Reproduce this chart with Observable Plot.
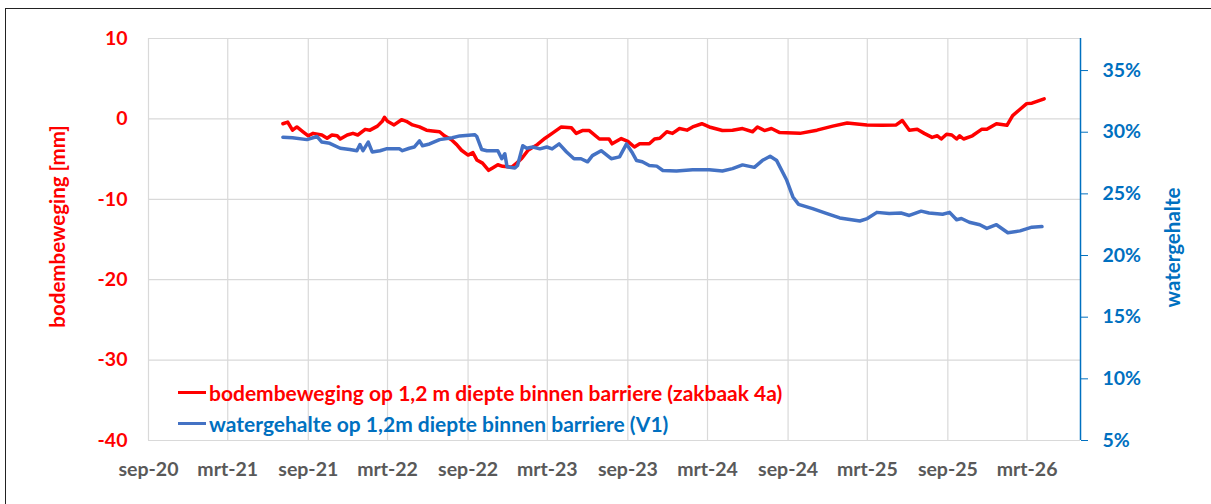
<!DOCTYPE html>
<html>
<head>
<meta charset="utf-8">
<script src="https://cdn.jsdelivr.net/npm/d3@7"></script>
<script src="https://cdn.jsdelivr.net/npm/@observablehq/plot@0.6"></script>
<style>
  html, body { margin: 0; padding: 0; background: #fff; }
  #wrap { position: relative; width: 1211px; height: 504px; overflow: hidden; font-family: Lato, "Open Sans", sans-serif; }
  #border { position: absolute; left: 5px; top: 8px; width: 1300px; height: 600px; border-left: 1.5px solid #222; border-top: 1.5px solid #222; box-sizing: border-box; }
  #chart { position: absolute; left: 0; top: 0; }
  #legend { position: absolute; left: 178px; top: 377px; font-weight: bold; font-size: 21px; line-height: 31px; }
  #legend .row { display: flex; align-items: center; white-space: nowrap; height: 31px; }
  #legend .sw { display: inline-block; width: 28px; height: 3px; margin-right: 3px; }
</style>
</head>
<body>
<div id="wrap">
  <div id="border"></div>
  <div id="chart"></div>
  <div id="legend"></div>
</div>
<script>
// ---- data ----
const xTickDates = ["2020-09-01","2021-03-01","2021-09-01","2022-03-01","2022-09-01","2023-03-01","2023-09-01","2024-03-01","2024-09-01","2025-03-01","2025-09-01","2026-03-01"];
const xTickLabels = ["sep-20","mrt-21","sep-21","mrt-22","sep-22","mrt-23","sep-23","mrt-24","sep-24","mrt-25","sep-25","mrt-26"];
const xDomain = ["2020-09-01","2026-07-01"];
const leftTicks = [-40, -30, -20, -10, 0, 10];
const leftDomain = [-40, 10];
const rightTicks = [5, 10, 15, 20, 25, 30, 35];
const rightDomain = [5, 37.6];

const seriesNames = ["bodembeweging op 1,2 m diepte binnen barriere (zakbaak 4a)", "watergehalte op 1,2m diepte binnen barriere (V1)"];

const redDates = ["2021-07-05","2021-07-16","2021-07-27","2021-08-06","2021-08-20","2021-09-01","2021-09-12","2021-10-02","2021-10-14","2021-10-25","2021-11-06","2021-11-13","2021-11-29","2021-12-12","2021-12-23","2022-01-09","2022-01-20","2022-02-06","2022-02-17","2022-02-22","2022-03-01","2022-03-16","2022-04-02","2022-04-13","2022-04-27","2022-05-13","2022-05-29","2022-06-12","2022-06-28","2022-07-09","2022-07-25","2022-08-06","2022-08-17","2022-09-01","2022-09-12","2022-09-21","2022-10-04","2022-10-18","2022-10-27","2022-11-08","2022-11-19","2022-12-10","2022-12-21","2023-01-02","2023-01-16","2023-02-06","2023-02-24","2023-03-12","2023-04-02","2023-04-25","2023-05-06","2023-05-20","2023-06-05","2023-06-28","2023-07-20","2023-07-27","2023-08-17","2023-09-01","2023-09-16","2023-09-28","2023-10-20","2023-11-01","2023-11-13","2023-11-29","2023-12-12","2023-12-28","2024-01-14","2024-01-27","2024-02-17","2024-03-05","2024-04-04","2024-04-27","2024-05-20","2024-06-12","2024-06-23","2024-07-09","2024-07-25","2024-08-13","2024-09-28","2024-11-06","2024-12-12","2025-01-14","2025-02-28","2025-04-04","2025-05-06","2025-05-20","2025-06-05","2025-06-23","2025-07-09","2025-07-27","2025-08-08","2025-08-17","2025-08-29","2025-09-10","2025-09-21","2025-09-28","2025-10-07","2025-10-27","2025-11-17","2025-11-29","2025-12-21","2026-01-14","2026-01-27","2026-02-13","2026-02-28","2026-03-12","2026-04-09"];
const redValues = [-0.6,-0.4,-1.4,-1.0,-1.6,-2.1,-1.8,-2.0,-2.4,-2.0,-2.1,-2.5,-2.0,-1.8,-2.0,-1.3,-1.4,-0.9,-0.3,0.2,-0.3,-0.75,-0.1,-0.3,-0.75,-1.0,-1.4,-1.5,-1.6,-2.1,-2.6,-3.2,-3.9,-4.5,-4.2,-5.1,-5.5,-6.4,-6.1,-5.7,-5.9,-6.0,-5.5,-4.9,-3.9,-3.2,-2.4,-1.8,-1.0,-1.1,-1.8,-1.45,-1.45,-2.5,-2.5,-3.1,-2.45,-2.8,-3.5,-3.1,-3.1,-2.5,-2.4,-1.6,-1.8,-1.2,-1.4,-1.0,-0.6,-1.0,-1.45,-1.4,-1.2,-1.6,-1.0,-1.45,-1.2,-1.7,-1.8,-1.4,-0.9,-0.5,-0.75,-0.8,-0.75,-0.2,-1.4,-1.3,-1.8,-2.3,-2.1,-2.5,-1.9,-2.0,-2.5,-2.1,-2.5,-2.1,-1.3,-1.3,-0.6,-0.8,0.4,1.2,1.9,1.95,2.5];

const blueDates = ["2021-07-05","2021-07-27","2021-08-29","2021-09-21","2021-10-02","2021-10-20","2021-11-13","2021-12-05","2021-12-21","2021-12-28","2022-01-04","2022-01-16","2022-01-25","2022-02-12","2022-02-26","2022-03-28","2022-04-04","2022-04-20","2022-05-01","2022-05-13","2022-05-20","2022-06-05","2022-06-28","2022-07-27","2022-08-13","2022-09-16","2022-09-21","2022-10-02","2022-10-14","2022-11-08","2022-11-17","2022-11-24","2022-11-29","2022-12-17","2022-12-23","2023-01-04","2023-01-13","2023-01-27","2023-02-12","2023-02-28","2023-03-12","2023-03-28","2023-04-14","2023-05-01","2023-05-17","2023-06-01","2023-06-12","2023-07-02","2023-07-25","2023-08-13","2023-08-29","2023-09-10","2023-09-21","2023-10-04","2023-10-20","2023-11-06","2023-11-20","2023-12-21","2024-01-27","2024-03-05","2024-04-04","2024-04-27","2024-05-20","2024-06-16","2024-07-04","2024-07-22","2024-08-06","2024-08-29","2024-09-12","2024-09-25","2024-10-27","2024-11-29","2024-12-28","2025-02-12","2025-03-01","2025-03-23","2025-04-20","2025-05-17","2025-06-05","2025-07-02","2025-07-20","2025-08-20","2025-09-05","2025-09-21","2025-10-02","2025-10-20","2025-11-13","2025-11-29","2025-12-21","2026-01-16","2026-02-13","2026-03-12","2026-04-04"];
const blueValues = [29.6,29.55,29.4,29.65,29.2,29.1,28.7,28.6,28.5,29.0,28.5,29.2,28.4,28.5,28.65,28.65,28.5,28.7,28.8,29.3,28.9,29.05,29.4,29.55,29.7,29.8,29.65,28.6,28.5,28.5,27.85,28.25,27.2,27.1,27.3,28.9,28.7,28.8,28.65,28.8,28.65,29.05,28.4,27.85,27.85,27.6,28.1,28.5,27.85,28.0,29.05,28.4,27.7,27.6,27.3,27.25,26.9,26.85,26.95,26.95,26.85,27.05,27.35,27.15,27.7,28.05,27.7,26.1,24.75,24.15,23.8,23.4,23.05,22.8,23.0,23.5,23.4,23.45,23.25,23.6,23.45,23.35,23.5,22.9,23.0,22.7,22.5,22.2,22.5,21.85,22.0,22.3,22.35];

// ---- colours ----
const RED = "#ff0000", BLUE_LINE = "#4472c4", BLUE_TEXT = "#0070c0", GRID = "#d9d9d9", XLAB = "#595959";

// map right-axis (%) onto left scale
const toLeft = p => leftDomain[0] + (p - rightDomain[0]) * (leftDomain[1] - leftDomain[0]) / (rightDomain[1] - rightDomain[0]);
const toRight = v => rightDomain[0] + (v - leftDomain[0]) * (rightDomain[1] - rightDomain[0]) / (leftDomain[1] - leftDomain[0]);

const redData = redDates.map((d, i) => ({date: new Date(d), v: redValues[i]}));
const blueData = blueDates.map((d, i) => ({date: new Date(d), v: toLeft(blueValues[i])}));
const xTicks = xTickDates.map(d => new Date(d));
const labelOf = new Map(xTickDates.map((d, i) => [new Date(d).getTime(), xTickLabels[i]]));

const plot = Plot.plot({
  width: 1211,
  height: 504,
  marginLeft: 148,
  marginRight: 131,
  marginTop: 38,
  marginBottom: 64,
  style: {fontFamily: "Lato, 'Open Sans', sans-serif", fontWeight: "bold", background: "transparent", overflow: "visible"},
  x: {type: "utc", domain: xDomain.map(d => new Date(d))},
  y: {domain: leftDomain},
  marks: [
    Plot.gridY(leftTicks, {stroke: GRID, strokeOpacity: 1, strokeWidth: 1.2}),
    Plot.gridX(xTicks, {stroke: GRID, strokeOpacity: 1, strokeWidth: 1.2}),
    Plot.axisX(xTicks, {tickSize: 0, tickPadding: 22, fontSize: 19.5, fill: XLAB, label: null, tickFormat: d => labelOf.get(d.getTime())}),
    Plot.axisY(leftTicks, {tickSize: 0, tickPadding: 21, fontSize: 19.5, fill: RED, label: null, tickFormat: v => String(v)}),
    Plot.axisY(rightTicks.map(toLeft), {anchor: "right", tickSize: 7, tickPadding: 15, fontSize: 19.5, color: BLUE_TEXT, label: null, tickFormat: v => Math.round(toRight(v)) + "%"}),
    Plot.ruleX([new Date(xDomain[1])], {stroke: BLUE_TEXT, strokeWidth: 1.5}),
    Plot.line(redData, {x: "date", y: "v", stroke: RED, strokeWidth: 3.5}),
    Plot.line(blueData, {x: "date", y: "v", stroke: BLUE_LINE, strokeWidth: 3.5}),
    Plot.text(["bodembeweging [mm]"], {frameAnchor: "left", dx: -90, dy: -13, rotate: -90, fill: RED, fontSize: 20.5, fontWeight: "bold", textAnchor: "middle"}),
    Plot.text(["watergehalte"], {frameAnchor: "right", dx: 93, dy: 8, rotate: -90, fill: BLUE_TEXT, fontSize: 20.5, fontWeight: "bold", textAnchor: "middle"})
  ]
});
document.getElementById("chart").appendChild(plot);

// legend
const legend = document.getElementById("legend");
[[seriesNames[0], RED, RED], [seriesNames[1], BLUE_LINE, BLUE_TEXT]].forEach(([name, lc, tc]) => {
  const row = document.createElement("div");
  row.className = "row";
  const sw = document.createElement("span");
  sw.className = "sw";
  sw.style.background = lc;
  const t = document.createElement("span");
  t.textContent = name;
  t.style.color = tc;
  row.appendChild(sw);
  row.appendChild(t);
  legend.appendChild(row);
});
</script>
</body>
</html>
